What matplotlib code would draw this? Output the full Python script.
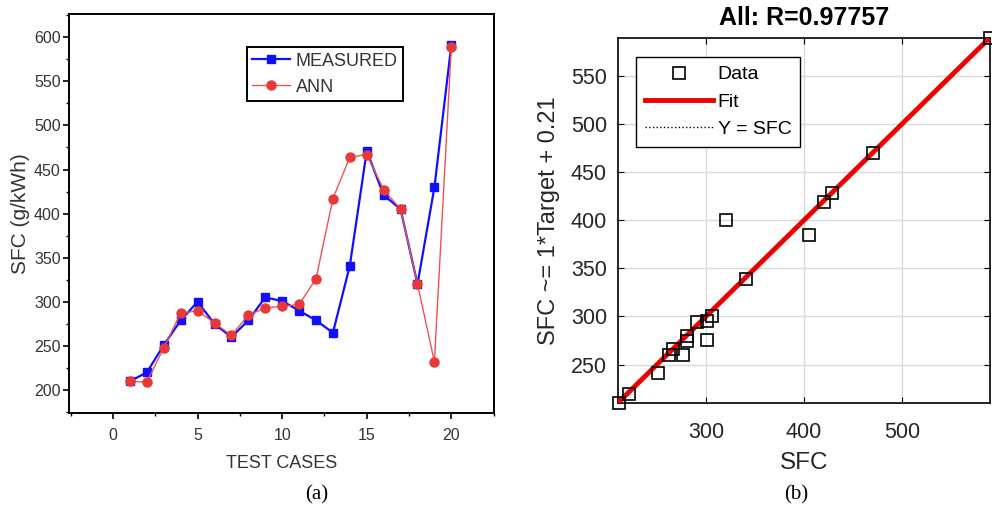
import matplotlib.pyplot as plt
from matplotlib.ticker import MultipleLocator

# (a) SFC for each test case
cases = list(range(1, 21))
measured = [210, 220, 251, 279, 300, 275, 260, 279, 305, 301,
            290, 279, 265, 341, 471, 421, 405, 320, 430, 591]
ann = [210, 209, 248, 287, 290, 276, 262, 285, 293, 295,
       297, 326, 417, 464, 467, 427, 405, 320, 232, 589]

# (b) regression points
target = [211, 221, 251, 262, 266, 276, 280, 280, 291, 301,
          306, 301, 341, 320, 405, 420, 429, 470, 590]
output = [210, 219, 241, 260, 266, 260, 274, 280, 294, 295,
          301, 276, 339, 400, 385, 419, 428, 470, 590]
fit_x = [210, 590]
fit_y = [210.21, 590.21]

plt.rcParams['font.family'] = ['Liberation Sans', 'DejaVu Sans']

fig = plt.figure(figsize=(9.92, 5.08), dpi=100)

# ---- left panel
ax1 = fig.add_axes([0.0696, 0.187, 0.428, 0.785])
ax1.plot(cases, measured, color='#1010ff', lw=1.6, marker='s', ms=6,
         label='MEASURED')
ax1.plot(cases, ann, color='#f05050', lw=1.0, marker='o', ms=6.5,
         mfc='#e83838', mec='#e83838', label='ANN')
ax1.set_xlim(-2.6, 22.5)
ax1.set_ylim(174, 626)
ax1.xaxis.set_major_locator(MultipleLocator(5))
ax1.xaxis.set_minor_locator(MultipleLocator(2.5))
ax1.yaxis.set_major_locator(MultipleLocator(50))
ax1.yaxis.set_minor_locator(MultipleLocator(25))
ax1.tick_params(which='major', direction='out', length=4.5, width=1.2,
                labelsize=11.5, labelcolor='#333333', pad=1.5)
ax1.tick_params(axis='x', which='major', pad=6)
ax1.tick_params(which='minor', direction='out', length=2.5, width=1.0)
for s in ax1.spines.values():
    s.set_linewidth(1.4)
ax1.set_xlabel('TEST CASES', fontsize=13, color='#333333', labelpad=9)
ax1.set_ylabel('SFC (g/kWh)', fontsize=15, color='#333333', labelpad=3)
leg = ax1.legend(loc='upper left', bbox_to_anchor=(0.419, 0.917),
                 fontsize=13, fancybox=False, framealpha=1,
                 edgecolor='black', handlelength=2.1, handletextpad=0.3,
                 borderpad=0.3, labelspacing=0.5, borderaxespad=0)
leg.get_frame().set_linewidth(1.4)
for t in leg.get_texts():
    t.set_color('#333333')

# ---- right panel
ax2 = fig.add_axes([0.623, 0.2067, 0.375, 0.719])
ax2.plot(target, output, ls='none', marker='s', ms=8, mfc='none',
         mec='black', mew=1.2, label='Data', zorder=4, clip_on=False)
ax2.plot(fit_x, fit_y, color='#ee0000', lw=3.5, label='Fit', zorder=3)
ax2.plot(fit_x, fit_x, color='black', ls=':', lw=1.0, label='Y = SFC',
         zorder=2)
ax2.set_xlim(210, 590)
ax2.set_ylim(210, 590)
ax2.set_xticks([300, 400, 500])
ax2.set_yticks([250, 300, 350, 400, 450, 500, 550])
ax2.grid(True, color='#d9d9d9', lw=1.0)
ax2.set_axisbelow(True)
ax2.tick_params(direction='in', length=4, labelsize=15.5,
                labelcolor='#262626', top=True, right=True)
ax2.tick_params(axis='y', pad=8)
ax2.tick_params(axis='x', pad=14)
for s in ax2.spines.values():
    s.set_linewidth(1.2)
ax2.set_title('All: R=0.97757', fontsize=18, fontweight='bold', pad=9)
ax2.set_xlabel('SFC', fontsize=17.5, color='#262626', labelpad=6)
ax2.set_ylabel('SFC ~= 1*Target + 0.21', fontsize=17, color='#262626',
               labelpad=8)
leg2 = ax2.legend(loc='upper left', bbox_to_anchor=(0.048, 0.947),
                  fontsize=14, fancybox=False, framealpha=1,
                  edgecolor='black', handlelength=3.5, handletextpad=0.25,
                  borderpad=0.45, labelspacing=0.5, borderaxespad=0)
leg2.get_frame().set_linewidth(1.0)

# panel captions
fig.text(0.319, 0.026, '(a)', fontsize=15, family='Liberation Serif',
         ha='center', va='center')
fig.text(0.803, 0.026, '(b)', fontsize=15, family='Liberation Serif',
         ha='center', va='center')

fig.savefig('out.png', dpi=100)
